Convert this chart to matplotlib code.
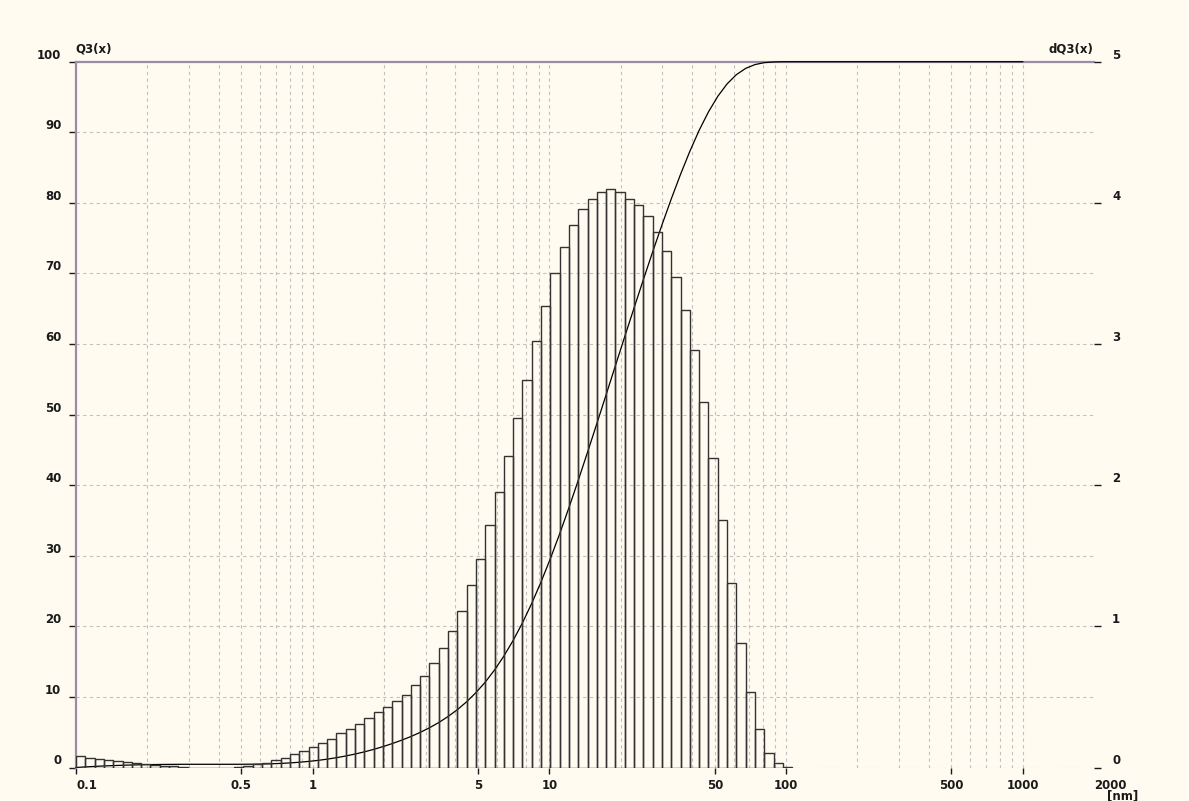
import numpy as np
import matplotlib
matplotlib.use("Agg")
import matplotlib.pyplot as plt
import matplotlib.ticker as mticker

# size classes: geometric grid of the analyser, starting at 0.1 nm
CLASS_START = 0.1
CLASS_RATIO = 1.0947

# dQ3 per size class [%] (right axis)
DQ3 = [0.084, 0.070, 0.062, 0.053, 0.046, 0.039, 0.030, 0.025, 0.018, 0.012,
       0.010, 0.003, 0.0, 0.0, 0.0, 0.0, 0.0,
       0.005, 0.010, 0.022, 0.035, 0.050, 0.070, 0.095, 0.118, 0.142, 0.175,
       0.205, 0.242, 0.272, 0.308, 0.348, 0.390, 0.430, 0.470,
       0.517, 0.585, 0.650, 0.738, 0.846, 0.970, 1.108, 1.290,
       1.475, 1.715, 1.950, 2.205,
       2.475, 2.745, 3.020, 3.270, 3.500, 3.690, 3.845, 3.960, 4.030, 4.075,
       4.100, 4.075, 4.030, 3.985, 3.910, 3.795, 3.660, 3.475, 3.240, 2.955,
       2.590, 2.190, 1.750, 1.305, 0.885, 0.535, 0.272, 0.100, 0.030, 0.005]

Q3_END = 1000  # cumulative curve is drawn on at 100 % up to here

X_TICKS = [0.1, 0.5, 1, 5, 10, 50, 100, 500, 1000, 2000]
X_LABELS = ["0.1", "0.5", "1", "5", "10", "50", "100", "500", "1000", "2000"]
X_GRID = [m * 10.0 ** e for e in range(-1, 3) for m in range(1, 10)][1:] + [1000]
Y_LEFT = list(range(0, 101, 10))
Y_RIGHT = list(range(0, 6))

BG = "#FFFBF0"
AXIS = "#9A8CA4"
GRID = "#C4C0C0"
INK = "#1A1A1A"
BAR = "#333333"

edges = CLASS_START * CLASS_RATIO ** np.arange(len(DQ3) + 1)
q3 = np.concatenate([[0.0], np.cumsum(DQ3)]) / np.sum(DQ3) * 100

plt.rcParams.update({
    "font.family": "DejaVu Sans",
    "font.size": 8.5,
    "font.weight": "bold",
})

W, H = 1189, 801
fig = plt.figure(figsize=(W / 100, H / 100), dpi=100, facecolor=BG)
ax = fig.add_axes([76 / W, (H - 767.5) / H, (1094 - 76) / W, (767.5 - 61.7) / H])
ax.set_facecolor(BG)
ax.set_xscale("log")
ax.set_xlim(0.1, 2000)
ax.set_ylim(0, 100)

ax2 = ax.twinx()
ax2.set_ylim(0, 5)

# histogram dQ3
ax2.bar(edges[:-1], DQ3, width=np.diff(edges), align="edge", fill=False,
        edgecolor=BAR, linewidth=1.0)

# cumulative Q3
ax.plot(np.append(edges, Q3_END), np.append(q3, 100), color="black",
        linewidth=0.9, zorder=3, clip_on=False)

# spines
for side in ["right", "bottom"]:
    ax.spines[side].set_visible(False)
for side in ["left", "top"]:
    ax.spines[side].set_color(AXIS)
    ax.spines[side].set_linewidth(1.6)
for side in ax2.spines:
    ax2.spines[side].set_visible(False)

# x axis
ax.set_xticks(X_TICKS)
ax.set_xticklabels(X_LABELS)
ax.xaxis.set_minor_locator(mticker.FixedLocator(X_GRID))
ax.xaxis.set_minor_formatter(mticker.NullFormatter())
ax.xaxis.remove_overlapping_locs = False
ax.tick_params(axis="x", which="major", length=4, width=1, color=INK,
               labelcolor=INK, pad=4)
ax.tick_params(axis="x", which="minor", length=0)
for lbl in ax.get_xticklabels():
    if lbl.get_text() in ("0.1", "2000"):
        lbl.set_ha("left")
ax.xaxis.get_major_ticks()[-1].tick1line.set_visible(False)

ax.grid(True, which="minor", axis="x", color=GRID, linestyle=(0, (3, 3)),
        linewidth=0.8)
ax.grid(False, which="major", axis="x")
ax.grid(True, which="major", axis="y", color=GRID, linestyle=(0, (3, 3)),
        linewidth=0.8)
ax.set_axisbelow(True)

# y axes
ax.set_yticks(Y_LEFT)
ax.tick_params(axis="y", length=5, width=1, color=INK, labelcolor=INK, pad=5.5)
for lbl in ax.get_yticklabels():
    lbl.set_va("bottom")

ax2.set_yticks(Y_RIGHT)
ax2.tick_params(axis="y", length=5, width=1, color=INK, labelcolor=INK, pad=8)
for lbl in ax2.get_yticklabels():
    lbl.set_va("bottom")

fig.text(75 / W, 1 - 56 / H, "Q3(x)", ha="left", va="bottom", color=INK)
fig.text(1093 / W, 1 - 56 / H, "dQ3(x)", ha="right", va="bottom", color=INK)
fig.text(1123 / W, 1 - 796 / H, "[nm]", ha="center", va="center", color=INK)

fig.savefig("out.png", dpi=100, facecolor=BG)
